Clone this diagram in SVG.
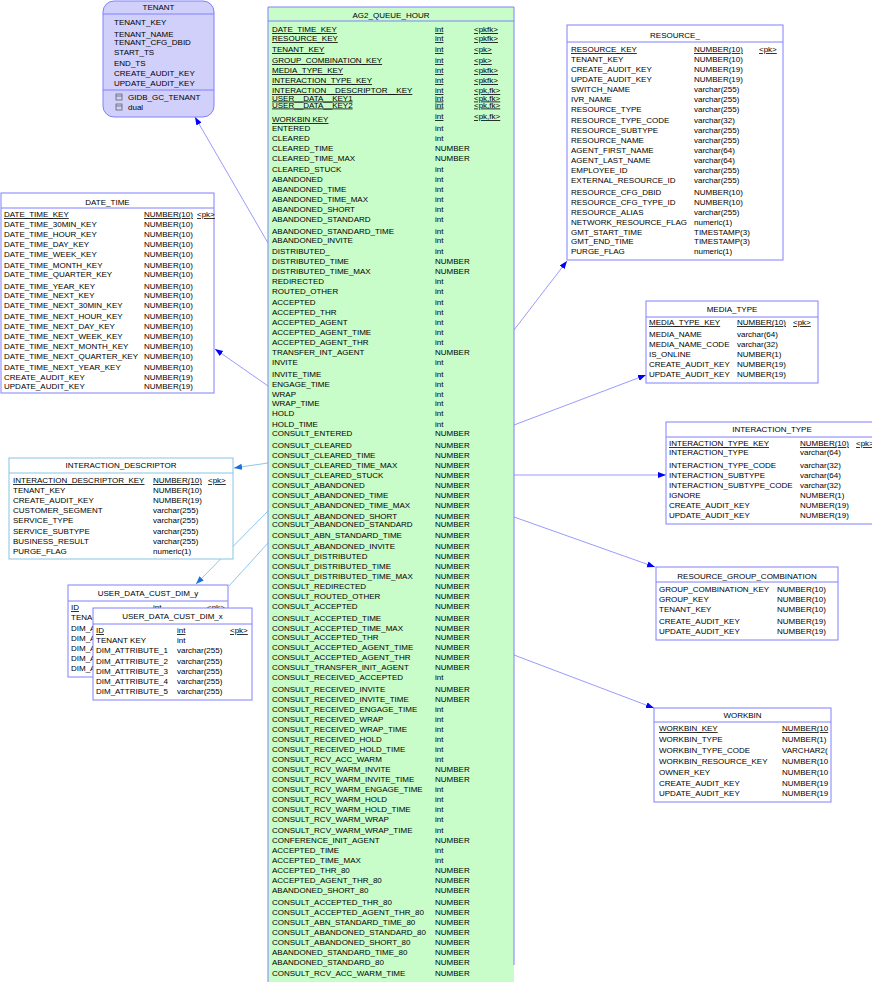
<svg xmlns="http://www.w3.org/2000/svg" width="872" height="1000" viewBox="0 0 872 1000">
<style>
text{font-family:"Liberation Sans",Arial,sans-serif;font-size:8px;fill:#000}
.c{text-anchor:middle}
.u{text-decoration:underline}
.box{fill:#fff;stroke:#8080ff;stroke-width:1}
.sep{stroke:#8080ff;stroke-width:1}
.lbox{fill:#fff;stroke:#88c4e4;stroke-width:1}
.lsep{stroke:#88c4e4;stroke-width:1}
.con{stroke:#8080ff;stroke-width:0.8;fill:none}
.lcon{stroke:#70b8e4;stroke-width:0.8;fill:none}
</style>
<defs>
<marker id="arr" markerUnits="userSpaceOnUse" markerWidth="10" markerHeight="8" refX="8" refY="3" orient="auto"><path d="M0,0 L8,3 L0,6 z" fill="#0000ff"/></marker>
<marker id="larr" markerUnits="userSpaceOnUse" markerWidth="10" markerHeight="8" refX="8" refY="3" orient="auto"><path d="M0,0 L8,3 L0,6 z" fill="#1a6fd8"/></marker>
</defs>
<rect width="872" height="1000" fill="#fff"/>

<g id="connectors">
<line class="con" x1="268" y1="243" x2="195" y2="117" marker-end="url(#arr)"/>
<line class="con" x1="268" y1="386" x2="215" y2="349" marker-end="url(#arr)"/>
<line class="lcon" x1="268" y1="463" x2="234" y2="468" marker-end="url(#larr)"/>
<line class="lcon" x1="268" y1="511" x2="196" y2="584" marker-end="url(#larr)"/>
<line class="lcon" x1="268" y1="543" x2="229" y2="586"/>
<line class="con" x1="514" y1="330" x2="567" y2="261" marker-end="url(#arr)"/>
<line class="con" x1="514" y1="425" x2="646" y2="375" marker-end="url(#arr)"/>
<line class="con" x1="514" y1="475" x2="666" y2="475" marker-end="url(#arr)"/>
<line class="con" x1="514" y1="517" x2="655" y2="567" marker-end="url(#arr)"/>
<line class="con" x1="514" y1="655" x2="654" y2="708" marker-end="url(#arr)"/>
</g>

<g id="TENANT">
<rect x="103" y="1" width="111" height="116" rx="11" fill="#d0d0fa" stroke="#8080ff"/>
<text class="c" x="158.5" y="10">TENANT</text>
<line class="sep" x1="103" y1="14" x2="214" y2="14"/>
<text x="114" y="25">TENANT_KEY</text>
<text x="114" y="37">TENANT_NAME</text>
<text x="114" y="45">TENANT_CFG_DBID</text>
<text x="114" y="55">START_TS</text>
<text x="114" y="66">END_TS</text>
<text x="114" y="76">CREATE_AUDIT_KEY</text>
<text x="114" y="86">UPDATE_AUDIT_KEY</text>
<line class="sep" x1="103" y1="90" x2="214" y2="90"/>
<rect x="116" y="94" width="6" height="6" fill="none" stroke="#555" stroke-width="0.7"/>
<line x1="116" y1="96" x2="122" y2="96" stroke="#555" stroke-width="0.7"/>
<text x="128" y="100">GIDB_GC_TENANT</text>
<rect x="116" y="104" width="6" height="6" fill="none" stroke="#555" stroke-width="0.7"/>
<line x1="116" y1="106" x2="122" y2="106" stroke="#555" stroke-width="0.7"/>
<text x="128" y="110">dual</text>
</g>

<g id="DATE_TIME">
<rect class="box" x="1" y="193" width="213" height="200"/>
<text class="c" x="107.5" y="205">DATE_TIME</text>
<line class="sep" x1="1" y1="208" x2="214" y2="208"/>
<text class="u" x="4" y="217">DATE_TIME_KEY</text><text class="u" x="144" y="217">NUMBER(10)</text><text class="u" x="197" y="217">&lt;pk&gt;</text>
<text x="4" y="226.5">DATE_TIME_30MIN_KEY</text><text x="144" y="226.5">NUMBER(10)</text>
<text x="4" y="237">DATE_TIME_HOUR_KEY</text><text x="144" y="237">NUMBER(10)</text>
<text x="4" y="246.5">DATE_TIME_DAY_KEY</text><text x="144" y="246.5">NUMBER(10)</text>
<text x="4" y="256.5">DATE_TIME_WEEK_KEY</text><text x="144" y="256.5">NUMBER(10)</text>
<text x="4" y="267.5">DATE_TIME_MONTH_KEY</text><text x="144" y="267.5">NUMBER(10)</text>
<text x="4" y="277">DATE_TIME_QUARTER_KEY</text><text x="144" y="277">NUMBER(10)</text>
<text x="4" y="288.5">DATE_TIME_YEAR_KEY</text><text x="144" y="288.5">NUMBER(10)</text>
<text x="4" y="298">DATE_TIME_NEXT_KEY</text><text x="144" y="298">NUMBER(10)</text>
<text x="4" y="308">DATE_TIME_NEXT_30MIN_KEY</text><text x="144" y="308">NUMBER(10)</text>
<text x="4" y="319">DATE_TIME_NEXT_HOUR_KEY</text><text x="144" y="319">NUMBER(10)</text>
<text x="4" y="329">DATE_TIME_NEXT_DAY_KEY</text><text x="144" y="329">NUMBER(10)</text>
<text x="4" y="339">DATE_TIME_NEXT_WEEK_KEY</text><text x="144" y="339">NUMBER(10)</text>
<text x="4" y="349">DATE_TIME_NEXT_MONTH_KEY</text><text x="144" y="349">NUMBER(10)</text>
<text x="4" y="359">DATE_TIME_NEXT_QUARTER_KEY</text><text x="144" y="359">NUMBER(10)</text>
<text x="4" y="370">DATE_TIME_NEXT_YEAR_KEY</text><text x="144" y="370">NUMBER(10)</text>
<text x="4" y="379.5">CREATE_AUDIT_KEY</text><text x="144" y="379.5">NUMBER(19)</text>
<text x="4" y="388.5">UPDATE_AUDIT_KEY</text><text x="144" y="388.5">NUMBER(19)</text>
</g>

<g id="INTERACTION_DESCRIPTOR">
<rect class="lbox" x="9" y="458" width="224" height="101"/>
<text class="c" x="121" y="468">INTERACTION_DESCRIPTOR</text>
<line class="lsep" x1="9" y1="473" x2="233" y2="473"/>
<text class="u" x="13" y="483">INTERACTION_DESCRIPTOR_KEY</text><text class="u" x="153" y="483">NUMBER(10)</text><text class="u" x="208" y="483">&lt;pk&gt;</text>
<text x="13" y="493">TENANT_KEY</text><text x="153" y="493">NUMBER(10)</text>
<text x="13" y="503">CREATE_AUDIT_KEY</text><text x="153" y="503">NUMBER(19)</text>
<text x="13" y="513">CUSTOMER_SEGMENT</text><text x="153" y="513">varchar(255)</text>
<text x="13" y="523">SERVICE_TYPE</text><text x="153" y="523">varchar(255)</text>
<text x="13" y="534">SERVICE_SUBTYPE</text><text x="153" y="534">varchar(255)</text>
<text x="13" y="544">BUSINESS_RESULT</text><text x="153" y="544">varchar(255)</text>
<text x="13" y="554">PURGE_FLAG</text><text x="153" y="554">numeric(1)</text>
</g>

<g id="USER_DATA_CUST_DIM_y">
<rect class="box" x="68" y="585" width="160" height="92"/>
<text class="c" x="148" y="596">USER_DATA_CUST_DIM_y</text>
<line class="sep" x1="68" y1="601" x2="228" y2="601"/>
<text class="u" x="71" y="610">ID</text><text class="u" x="153" y="610">int</text><text class="u" x="207" y="610">&lt;pk&gt;</text>
<text x="71" y="620">TENA</text>
<text x="71" y="630.5">DIM_A</text>
<text x="71" y="640.5">DIM_A</text>
<text x="71" y="651">DIM_A</text>
<text x="71" y="661">DIM_A</text>
<text x="71" y="671">DIM_A</text>
</g>

<g id="USER_DATA_CUST_DIM_x">
<rect class="box" x="93" y="608" width="159" height="92"/>
<text class="c" x="172.5" y="619">USER_DATA_CUST_DIM_x</text>
<line class="sep" x1="93" y1="624" x2="252" y2="624"/>
<text class="u" x="96" y="633">ID</text><text class="u" x="177" y="633">int</text><text class="u" x="230" y="633">&lt;pk&gt;</text>
<text x="96" y="643">TENANT KEY</text><text x="177" y="643">int</text>
<text x="96" y="653">DIM_ATTRIBUTE_1</text><text x="177" y="653">varchar(255)</text>
<text x="96" y="664">DIM_ATTRIBUTE_2</text><text x="177" y="664">varchar(255)</text>
<text x="96" y="674">DIM_ATTRIBUTE_3</text><text x="177" y="674">varchar(255)</text>
<text x="96" y="684">DIM_ATTRIBUTE_4</text><text x="177" y="684">varchar(255)</text>
<text x="96" y="694">DIM_ATTRIBUTE_5</text><text x="177" y="694">varchar(255)</text>
</g>

<g id="AG2_QUEUE_HOUR">
<rect x="268" y="7" width="246" height="975" fill="#c8fcc8"/>
<path d="M268,982 V7 H514 V965" fill="none" stroke="#8080ff"/>
<text class="c" x="391" y="18">AG2_QUEUE_HOUR</text>
<line class="sep" x1="268" y1="21" x2="514" y2="21"/>
<text class="u" x="272" y="32">DATE_TIME_KEY</text><text class="u" x="435" y="32">int</text><text class="u" x="474" y="32">&lt;pkfk&gt;</text>
<text class="u" x="272" y="41">RESOURCE_KEY</text><text class="u" x="435" y="41">int</text><text class="u" x="474" y="41">&lt;pkfk&gt;</text>
<text class="u" x="272" y="52">TENANT_KEY</text><text class="u" x="435" y="52">int</text><text class="u" x="474" y="52">&lt;pk&gt;</text>
<text class="u" x="272" y="63">GROUP_COMBINATION_KEY</text><text class="u" x="435" y="63">int</text><text class="u" x="474" y="63">&lt;pk&gt;</text>
<text class="u" x="272" y="73">MEDIA_TYPE_KEY</text><text class="u" x="435" y="73">int</text><text class="u" x="474" y="73">&lt;pkfk&gt;</text>
<text class="u" x="272" y="83">INTERACTION_TYPE_KEY</text><text class="u" x="435" y="83">int</text><text class="u" x="474" y="83">&lt;pkfk&gt;</text>
<text class="u" x="272" y="93">INTERACTION__DESCRIPTOR__KEY</text><text class="u" x="435" y="93">int</text><text class="u" x="474" y="93">&lt;pk,fk&gt;</text>
<text class="u" x="272" y="100.5">USER__DATA__KEY1</text><text class="u" x="435" y="100.5">int</text><text class="u" x="474" y="100.5">&lt;pk,fk&gt;</text>
<text class="u" x="272" y="107.5">USER__DATA__KEY2</text><text class="u" x="435" y="107.5">int</text><text class="u" x="474" y="107.5">&lt;pk,fk&gt;</text>
<text class="u" x="272" y="122">WORKBIN KEY</text><text class="u" x="435" y="119">int</text><text class="u" x="474" y="119">&lt;pk,fk&gt;</text>
<text x="272" y="131">ENTERED</text><text x="435" y="131">int</text>
<text x="272" y="140.5">CLEARED</text><text x="435" y="140.5">int</text>
<text x="272" y="151">CLEARED_TIME</text><text x="435" y="151">NUMBER</text>
<text x="272" y="160.5">CLEARED_TIME_MAX</text><text x="435" y="160.5">NUMBER</text>
<text x="272" y="172">CLEARED_STUCK</text><text x="435" y="172">int</text>
<text x="272" y="182">ABANDONED</text><text x="435" y="182">int</text>
<text x="272" y="192">ABANDONED_TIME</text><text x="435" y="192">int</text>
<text x="272" y="202">ABANDONED_TIME_MAX</text><text x="435" y="202">int</text>
<text x="272" y="212">ABANDONED_SHORT</text><text x="435" y="212">int</text>
<text x="272" y="222">ABANDONED_STANDARD</text><text x="435" y="222">int</text>
<text x="272" y="233.5">ABANDONED_STANDARD_TIME</text><text x="435" y="233.5">int</text>
<text x="272" y="243">ABANDONED_INVITE</text><text x="435" y="243">int</text>
<text x="272" y="254">DISTRIBUTED_</text><text x="435" y="254">int</text>
<text x="272" y="263.5">DISTRIBUTED_TIME</text><text x="435" y="263.5">NUMBER</text>
<text x="272" y="273.5">DISTRIBUTED_TIME_MAX</text><text x="435" y="273.5">NUMBER</text>
<text x="272" y="283.5">REDIRECTED</text><text x="435" y="283.5">int</text>
<text x="272" y="293.5">ROUTED_OTHER</text><text x="435" y="293.5">int</text>
<text x="272" y="305">ACCEPTED</text><text x="435" y="305">int</text>
<text x="272" y="315">ACCEPTED_THR</text><text x="435" y="315">int</text>
<text x="272" y="325">ACCEPTED_AGENT</text><text x="435" y="325">int</text>
<text x="272" y="335">ACCEPTED_AGENT_TIME</text><text x="435" y="335">int</text>
<text x="272" y="345">ACCEPTED_AGENT_THR</text><text x="435" y="345">int</text>
<text x="272" y="355">TRANSFER_INT_AGENT</text><text x="435" y="355">NUMBER</text>
<text x="272" y="365">INVITE</text><text x="435" y="365">int</text>
<text x="272" y="376.5">INVITE_TIME</text><text x="435" y="376.5">int</text>
<text x="272" y="386.5">ENGAGE_TIME</text><text x="435" y="386.5">int</text>
<text x="272" y="396.5">WRAP</text><text x="435" y="396.5">int</text>
<text x="272" y="406">WRAP_TIME</text><text x="435" y="406">int</text>
<text x="272" y="416">HOLD</text><text x="435" y="416">int</text>
<text x="272" y="426.5">HOLD_TIME</text><text x="435" y="426.5">int</text>
<text x="272" y="436">CONSULT_ENTERED</text><text x="435" y="436">NUMBER</text>
<text x="272" y="448">CONSULT_CLEARED</text><text x="435" y="448">NUMBER</text>
<text x="272" y="458">CONSULT_CLEARED_TIME</text><text x="435" y="458">NUMBER</text>
<text x="272" y="468">CONSULT_CLEARED_TIME_MAX</text><text x="435" y="468">NUMBER</text>
<text x="272" y="478">CONSULT_CLEARED_STUCK</text><text x="435" y="478">NUMBER</text>
<text x="272" y="488">CONSULT_ABANDONED</text><text x="435" y="488">NUMBER</text>
<text x="272" y="497.5">CONSULT_ABANDONED_TIME</text><text x="435" y="497.5">NUMBER</text>
<text x="272" y="508">CONSULT_ABANDONED_TIME_MAX</text><text x="435" y="508">NUMBER</text>
<text x="272" y="519">CONSULT_ABANDONED_SHORT</text><text x="435" y="519">NUMBER</text>
<text x="272" y="527">CONSULT_ABANDONED_STANDARD</text><text x="435" y="527">NUMBER</text>
<text x="272" y="537.5">CONSULT_ABN_STANDARD_TIME</text><text x="435" y="537.5">NUMBER</text>
<text x="272" y="549">CONSULT_ABANDONED_INVITE</text><text x="435" y="549">NUMBER</text>
<text x="272" y="559">CONSULT_DISTRIBUTED</text><text x="435" y="559">NUMBER</text>
<text x="272" y="569">CONSULT_DISTRIBUTED_TIME</text><text x="435" y="569">NUMBER</text>
<text x="272" y="579">CONSULT_DISTRIBUTED_TIME_MAX</text><text x="435" y="579">NUMBER</text>
<text x="272" y="589">CONSULT_REDIRECTED</text><text x="435" y="589">NUMBER</text>
<text x="272" y="599">CONSULT_ROUTED_OTHER</text><text x="435" y="599">NUMBER</text>
<text x="272" y="609">CONSULT_ACCEPTED</text><text x="435" y="609">NUMBER</text>
<text x="272" y="620.5">CONSULT_ACCEPTED_TIME</text><text x="435" y="620.5">NUMBER</text>
<text x="272" y="630.5">CONSULT_ACCEPTED_TIME_MAX</text><text x="435" y="630.5">NUMBER</text>
<text x="272" y="640">CONSULT_ACCEPTED_THR</text><text x="435" y="640">NUMBER</text>
<text x="272" y="650">CONSULT_ACCEPTED_AGENT_TIME</text><text x="435" y="650">NUMBER</text>
<text x="272" y="660">CONSULT_ACCEPTED_AGENT_THR</text><text x="435" y="660">NUMBER</text>
<text x="272" y="670">CONSULT_TRANSFER_INIT_AGENT</text><text x="435" y="670">NUMBER</text>
<text x="272" y="680">CONSULT_RECEIVED_ACCEPTED</text><text x="435" y="680">int</text>
<text x="272" y="692">CONSULT_RECEIVED_INVITE</text><text x="435" y="692">NUMBER</text>
<text x="272" y="702">CONSULT_RECEIVED_INVITE_TIME</text><text x="435" y="702">NUMBER</text>
<text x="272" y="712">CONSULT_RECEIVED_ENGAGE_TIME</text><text x="435" y="712">int</text>
<text x="272" y="722">CONSULT_RECEIVED_WRAP</text><text x="435" y="722">int</text>
<text x="272" y="732">CONSULT_RECEIVED_WRAP_TIME</text><text x="435" y="732">int</text>
<text x="272" y="741.5">CONSULT_RECEIVED_HOLD</text><text x="435" y="741.5">int</text>
<text x="272" y="752">CONSULT_RECEIVED_HOLD_TIME</text><text x="435" y="752">int</text>
<text x="272" y="762">CONSULT_RCV_ACC_WARM</text><text x="435" y="762">int</text>
<text x="272" y="772">CONSULT_RCV_WARM_INVITE</text><text x="435" y="772">NUMBER</text>
<text x="272" y="782">CONSULT_RCV_WARM_INVITE_TIME</text><text x="435" y="782">NUMBER</text>
<text x="272" y="791.5">CONSULT_RCV_WARM_ENGAGE_TIME</text><text x="435" y="791.5">int</text>
<text x="272" y="802">CONSULT_RCV_WARM_HOLD</text><text x="435" y="802">int</text>
<text x="272" y="812">CONSULT_RCV_WARM_HOLD_TIME</text><text x="435" y="812">int</text>
<text x="272" y="821.5">CONSULT_RCV_WARM_WRAP</text><text x="435" y="821.5">int</text>
<text x="272" y="833">CONSULT_RCV_WARM_WRAP_TIME</text><text x="435" y="833">int</text>
<text x="272" y="843">CONFERENCE_INIT_AGENT</text><text x="435" y="843">NUMBER</text>
<text x="272" y="853">ACCEPTED_TIME</text><text x="435" y="853">int</text>
<text x="272" y="863">ACCEPTED_TIME_MAX</text><text x="435" y="863">int</text>
<text x="272" y="873">ACCEPTED_THR_80</text><text x="435" y="873">NUMBER</text>
<text x="272" y="883">ACCEPTED_AGENT_THR_80</text><text x="435" y="883">NUMBER</text>
<text x="272" y="893">ABANDONED_SHORT_80</text><text x="435" y="893">NUMBER</text>
<text x="272" y="904.5">CONSULT_ACCEPTED_THR_80</text><text x="435" y="904.5">NUMBER</text>
<text x="272" y="914.5">CONSULT_ACCEPTED_AGENT_THR_80</text><text x="435" y="914.5">NUMBER</text>
<text x="272" y="924.5">CONSULT_ABN_STANDARD_TIME_80</text><text x="435" y="924.5">NUMBER</text>
<text x="272" y="934.5">CONSULT_ABANDONED_STANDARD_80</text><text x="435" y="934.5">NUMBER</text>
<text x="272" y="944.5">CONSULT_ABANDONED_SHORT_80</text><text x="435" y="944.5">NUMBER</text>
<text x="272" y="954.5">ABANDONED_STANDARD_TIME_80</text><text x="435" y="954.5">NUMBER</text>
<text x="272" y="964.5">ABANDONED_STANDARD_80</text><text x="435" y="964.5">NUMBER</text>
<text x="272" y="976">CONSULT_RCV_ACC_WARM_TIME</text><text x="435" y="976">NUMBER</text>
</g>

<g id="RESOURCE_">
<rect class="box" x="567" y="25" width="216" height="235"/>
<text class="c" x="675" y="38">RESOURCE_</text>
<line class="sep" x1="567" y1="42" x2="783" y2="42"/>
<text class="u" x="571" y="52">RESOURCE_KEY</text><text class="u" x="694" y="52">NUMBER(10)</text><text class="u" x="759" y="52">&lt;pk&gt;</text>
<text x="571" y="62">TENANT_KEY</text><text x="694" y="62">NUMBER(10)</text>
<text x="571" y="72">CREATE_AUDIT_KEY</text><text x="694" y="72">NUMBER(19)</text>
<text x="571" y="82">UPDATE_AUDIT_KEY</text><text x="694" y="82">NUMBER(19)</text>
<text x="571" y="92">SWITCH_NAME</text><text x="694" y="92">varchar(255)</text>
<text x="571" y="102">IVR_NAME</text><text x="694" y="102">varchar(255)</text>
<text x="571" y="112">RESOURCE_TYPE</text><text x="694" y="112">varchar(255)</text>
<text x="571" y="123">RESOURCE_TYPE_CODE</text><text x="694" y="123">varchar(32)</text>
<text x="571" y="133">RESOURCE_SUBTYPE</text><text x="694" y="133">varchar(255)</text>
<text x="571" y="143">RESOURCE_NAME</text><text x="694" y="143">varchar(255)</text>
<text x="571" y="153">AGENT_FIRST_NAME</text><text x="694" y="153">varchar(64)</text>
<text x="571" y="163">AGENT_LAST_NAME</text><text x="694" y="163">varchar(64)</text>
<text x="571" y="173">EMPLOYEE_ID</text><text x="694" y="173">varchar(255)</text>
<text x="571" y="183">EXTERNAL_RESOURCE_ID</text><text x="694" y="183">varchar(255)</text>
<text x="571" y="194.5">RESOURCE_CFG_DBID</text><text x="694" y="194.5">NUMBER(10)</text>
<text x="571" y="204.5">RESOURCE_CFG_TYPE_ID</text><text x="694" y="204.5">NUMBER(10)</text>
<text x="571" y="214.5">RESOURCE_ALIAS</text><text x="694" y="214.5">varchar(255)</text>
<text x="571" y="224.5">NETWORK_RESOURCE_FLAG</text><text x="694" y="224.5">numeric(1)</text>
<text x="571" y="234.5">GMT_START_TIME</text><text x="694" y="234.5">TIMESTAMP(3)</text>
<text x="571" y="244">GMT_END_TIME</text><text x="694" y="244">TIMESTAMP(3)</text>
<text x="571" y="254">PURGE_FLAG</text><text x="694" y="254">numeric(1)</text>
</g>

<g id="MEDIA_TYPE">
<rect class="box" x="646" y="301" width="172" height="82"/>
<text class="c" x="732" y="312">MEDIA_TYPE</text>
<line class="sep" x1="646" y1="317" x2="818" y2="317"/>
<text class="u" x="649" y="325">MEDIA_TYPE_KEY</text><text class="u" x="737" y="325">NUMBER(10)</text><text class="u" x="793" y="325">&lt;pk&gt;</text>
<text x="649" y="337">MEDIA_NAME</text><text x="737" y="337">varchar(64)</text>
<text x="649" y="347">MEDIA_NAME_CODE</text><text x="737" y="347">varchar(32)</text>
<text x="649" y="357">IS_ONLINE</text><text x="737" y="357">NUMBER(1)</text>
<text x="649" y="367">CREATE_AUDIT_KEY</text><text x="737" y="367">NUMBER(19)</text>
<text x="649" y="377">UPDATE_AUDIT_KEY</text><text x="737" y="377">NUMBER(19)</text>
</g>

<g id="INTERACTION_TYPE">
<rect class="box" x="666" y="422" width="214" height="102"/>
<text class="c" x="772" y="432">INTERACTION_TYPE</text>
<line class="sep" x1="666" y1="437" x2="880" y2="437"/>
<text class="u" x="669" y="446">INTERACTION_TYPE_KEY</text><text class="u" x="800" y="446">NUMBER(10)</text><text class="u" x="856" y="446">&lt;pk&gt;</text>
<text x="669" y="455">INTERACTION_TYPE</text><text x="800" y="455">varchar(64)</text>
<text x="669" y="468">INTERACTION_TYPE_CODE</text><text x="800" y="468">varchar(32)</text>
<text x="669" y="478">INTERACTION_SUBTYPE</text><text x="800" y="478">varchar(64)</text>
<text x="669" y="488">INTERACTION_SUBTYPE_CODE</text><text x="800" y="488">varchar(32)</text>
<text x="669" y="498">IGNORE</text><text x="800" y="498">NUMBER(1)</text>
<text x="669" y="508">CREATE_AUDIT_KEY</text><text x="800" y="508">NUMBER(19)</text>
<text x="669" y="518">UPDATE_AUDIT_KEY</text><text x="800" y="518">NUMBER(19)</text>
</g>

<g id="RESOURCE_GROUP_COMBINATION">
<rect class="box" x="656" y="567" width="182" height="73"/>
<text class="c" x="747" y="579">RESOURCE_GROUP_COMBINATION</text>
<line class="sep" x1="656" y1="582" x2="838" y2="582"/>
<text x="659" y="592">GROUP_COMBINATION_KEY</text><text x="777" y="592">NUMBER(10)</text>
<text x="659" y="602">GROUP_KEY</text><text x="777" y="602">NUMBER(10)</text>
<text x="659" y="612">TENANT_KEY</text><text x="777" y="612">NUMBER(10)</text>
<text x="659" y="624">CREATE_AUDIT_KEY</text><text x="777" y="624">NUMBER(19)</text>
<text x="659" y="634">UPDATE_AUDIT_KEY</text><text x="777" y="634">NUMBER(19)</text>
</g>

<g id="WORKBIN">
<rect class="box" x="654" y="708" width="177" height="94"/>
<text class="c" x="742.5" y="718">WORKBIN</text>
<line class="sep" x1="654" y1="722" x2="831" y2="722"/>
<text class="u" x="659" y="731">WORKBIN_KEY</text><text class="u" x="782" y="731">NUMBER(10</text>
<text x="659" y="742">WORKBIN_TYPE</text><text x="782" y="742">NUMBER(1)</text>
<text x="659" y="753">WORKBIN_TYPE_CODE</text><text x="782" y="753">VARCHAR2(</text>
<text x="659" y="764">WORKBIN_RESOURCE_KEY</text><text x="782" y="764">NUMBER(10</text>
<text x="659" y="775">OWNER_KEY</text><text x="782" y="775">NUMBER(10</text>
<text x="659" y="786">CREATE_AUDIT_KEY</text><text x="782" y="786">NUMBER(19</text>
<text x="659" y="796">UPDATE_AUDIT_KEY</text><text x="782" y="796">NUMBER(19</text>
</g>
</svg>
